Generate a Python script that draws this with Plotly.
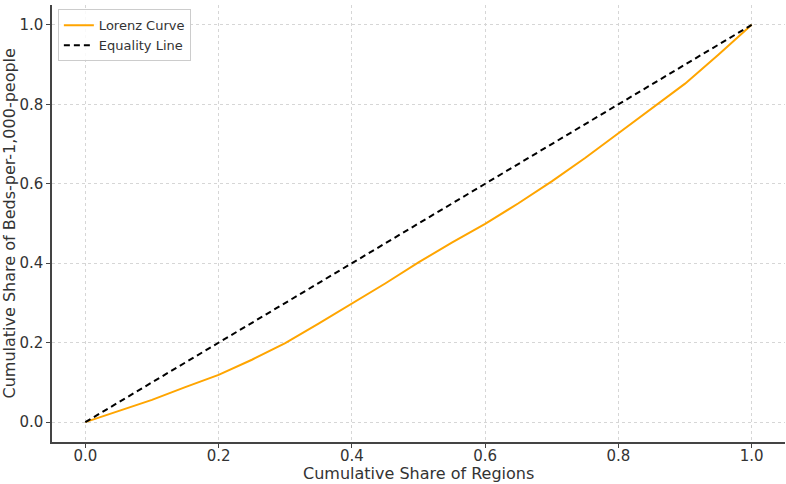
import plotly.graph_objects as go

region_share = [0.0, 0.05, 0.1, 0.15, 0.2, 0.25, 0.3, 0.35, 0.4, 0.45, 0.5,
                0.55, 0.6, 0.65, 0.7, 0.75, 0.8, 0.85, 0.9, 0.95, 1.0]
beds_share = [0.0, 0.028, 0.056, 0.088, 0.119, 0.157, 0.199, 0.248, 0.298, 0.349, 0.402,
              0.452, 0.499, 0.551, 0.606, 0.665, 0.727, 0.789, 0.852, 0.925, 1.0]
equality_x = [0.0, 1.0]
equality_y = [0.0, 1.0]
tick_vals = [0.0, 0.2, 0.4, 0.6, 0.8, 1.0]
x_title = "Cumulative Share of Regions"
y_title = "Cumulative Share of Beds-per-1,000-people"

fig = go.Figure()
fig.add_trace(go.Scatter(x=region_share, y=beds_share, mode="lines", name="Lorenz Curve",
                         line=dict(color="#FFA500", width=2)))
fig.add_trace(go.Scatter(x=equality_x, y=equality_y, mode="lines", name="Equality Line",
                         line=dict(color="black", width=2, dash="6px,4px")))

axis_common = dict(
    showgrid=True, gridcolor="#d6d6d6", griddash="3px,3px", gridwidth=1,
    showline=True, linecolor="#444444", linewidth=1.5,
    ticks="outside", ticklen=4, tickcolor="#444444", tickwidth=1,
    zeroline=False, tickformat=".1f", tickvals=tick_vals,
    tickfont=dict(family="DejaVu Sans", size=15, color="#333333"),
    mirror=False, automargin=False,
)

title_font = dict(family="DejaVu Sans", size=16, color="#333333")

fig.update_layout(
    width=786, height=484,
    margin=dict(l=52, r=1, t=5, b=42),
    paper_bgcolor="white", plot_bgcolor="white",
    font=dict(family="DejaVu Sans", color="#333333"),
    xaxis=dict(range=[-0.05, 1.05], ticklabelstandoff=-5, **axis_common),
    yaxis=dict(range=[-0.05, 1.05], **axis_common),
    legend=dict(x=0.008, y=0.99, xanchor="left", yanchor="top",
                bgcolor="rgba(255,255,255,0.85)", bordercolor="#cccccc", borderwidth=1,
                font=dict(family="DejaVu Sans", size=13, color="#333333"),
                tracegroupgap=0, itemwidth=30),
    showlegend=True,
    annotations=[
        dict(text=x_title, xref="paper", yref="paper", x=0.5, y=0,
             xanchor="center", yanchor="middle", yshift=-31, showarrow=False, font=title_font),
        dict(text=y_title, xref="paper", yref="paper", x=0, y=0.5, textangle=-90,
             xanchor="center", yanchor="middle", xshift=-43, showarrow=False, font=title_font),
    ],
)

fig.write_html("out.html", config={"displayModeBar": False},
               post_script="document.body.style.margin='0';")
